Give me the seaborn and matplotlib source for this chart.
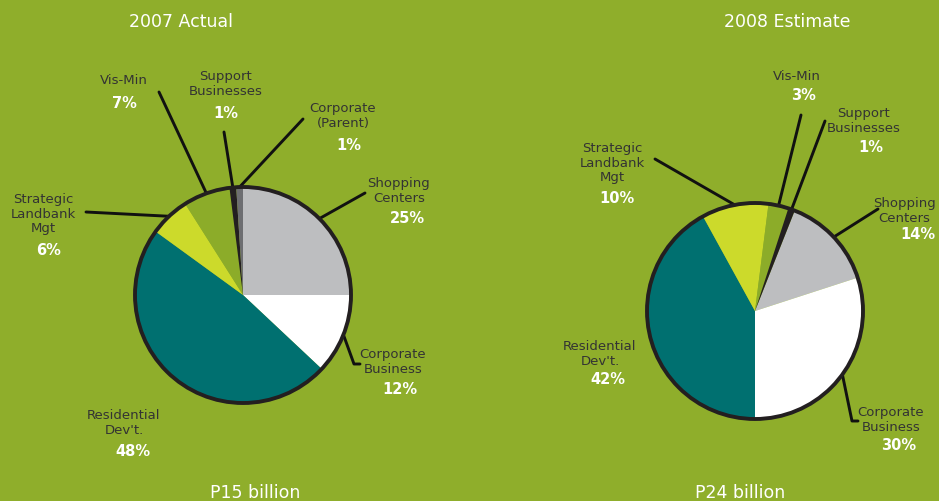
import numpy as np
import matplotlib
matplotlib.use("Agg")
import matplotlib.pyplot as plt
import seaborn as sns

# ---------------- data ----------------
titles = ["2007 Actual", "2008 Estimate"]
totals = ["P15 billion", "P24 billion"]

cats_2007 = ["Shopping\nCenters", "Corporate\nBusiness", "Residential\nDev't.",
             "Strategic\nLandbank\nMgt", "Vis-Min", "Support\nBusinesses",
             "Corporate\n(Parent)"]
vals_2007 = [25, 12, 48, 6, 7, 1, 1]

cats_2008 = ["Shopping\nCenters", "Corporate\nBusiness", "Residential\nDev't.",
             "Strategic\nLandbank\nMgt", "Vis-Min", "Support\nBusinesses"]
vals_2008 = [14, 30, 42, 10, 3, 1]

# ---------------- style ----------------
BG = "#8FAE2B"
sns.set_style("white", {"axes.facecolor": BG, "figure.facecolor": BG})
plt.rcParams["font.family"] = ["DejaVu Sans"]

color_map = {
    "Shopping\nCenters": "#BDBEC0",
    "Corporate\nBusiness": "#FFFFFF",
    "Residential\nDev't.": "#007070",
    "Strategic\nLandbank\nMgt": "#CCDA2B",
    "Vis-Min": "#8CAC29",
    "Support\nBusinesses": "#231F20",
    "Corporate\n(Parent)": "#6D6E71",
}

W, H = 939, 501
fig = plt.figure(figsize=(W / 100, H / 100), dpi=100)
ax = fig.add_axes([0, 0, 1, 1])

def py(y):  # pixel-from-top -> data y
    return H - y

# layout: pie centers / radius in pixel space
pies = [
    dict(cats=cats_2007, vals=vals_2007, center=(243, 295), r=108, start=90,
         title_pos=(181, 22), total_pos=(255, 493),
         labels={  # name: (label center, pct center, leader end, elbow)
             "Vis-Min": ((124, 80), (124, 103), (159, 92), None),
             "Support\nBusinesses": ((226, 84), (226, 113), (224, 132), None),
             "Corporate\n(Parent)": ((343, 116), (349, 145), (303, 119), None),
             "Shopping\nCenters": ((399, 191), (407, 218), (365, 193), None),
             "Strategic\nLandbank\nMgt": ((43, 214), (49, 250), (86, 212), None),
             "Corporate\nBusiness": ((393, 362), (400, 390), (360, 364), (354, 364)),
             "Residential\nDev't.": ((124, 423), (133, 452), None, None),
         }),
    dict(cats=cats_2008, vals=vals_2008, center=(755, 311), r=108, start=68.4,
         title_pos=(787, 22), total_pos=(740, 493),
         labels={
             "Vis-Min": ((797, 76), (803, 95), (801, 115), None),
             "Support\nBusinesses": ((864, 121), (871, 147), (825, 121), None),
             "Strategic\nLandbank\nMgt": ((612, 163), (617, 198), (655, 159), None),
             "Shopping\nCenters": ((904, 211), (918, 234), (878, 209), None),
             "Residential\nDev't.": ((600, 354), (608, 380), None, None),
             "Corporate\nBusiness": ((891, 420), (899, 446), (858, 421), (852, 421)),
         }),
]

for i, p in enumerate(pies):
    cx, cy = p["center"]
    r = p["r"]
    colors = [color_map[c] for c in p["cats"]]
    wedges, _ = ax.pie(p["vals"], colors=colors, startangle=p["start"],
                       counterclock=False, radius=r, center=(cx, py(cy)),
                       frame=True, wedgeprops=dict(linewidth=0))
    # outline
    circ = plt.Circle((cx, py(cy)), r, fill=False, edgecolor="#231F20",
                      linewidth=2.8, zorder=5)
    ax.add_patch(circ)

    ax.text(p["title_pos"][0], py(p["title_pos"][1]), titles[i],
            ha="center", va="center", color="white", fontsize=12.5)
    ax.text(p["total_pos"][0], py(p["total_pos"][1]), totals[i],
            ha="center", va="center", color="white", fontsize=12.5)

    for w, cat, val in zip(wedges, p["cats"], p["vals"]):
        lab_pos, pct_pos, lead_end, elbow = p["labels"][cat]
        ax.text(lab_pos[0], py(lab_pos[1]), cat, ha="center", va="center",
                color="#333333", fontsize=9.5, linespacing=1.12)
        ax.text(pct_pos[0], py(pct_pos[1]), f"{val}%", ha="center", va="center",
                color="white", fontsize=10.5, fontweight="bold")
        if lead_end is not None:
            mid = np.deg2rad((w.theta1 + w.theta2) / 2)
            x0 = cx + r * np.cos(mid)
            y0 = py(cy) + r * np.sin(mid)
            if elbow is not None:
                xs = [x0, elbow[0], lead_end[0]]
                ys = [y0, py(elbow[1]), py(lead_end[1])]
            else:
                xs = [x0, lead_end[0]]
                ys = [y0, py(lead_end[1])]
            ax.plot(xs, ys, color="#111111", linewidth=2.1,
                    solid_capstyle="round", zorder=4)

ax.set_xlim(0, W)
ax.set_ylim(0, H)
ax.set_aspect("equal")
ax.axis("off")
fig.savefig("out.png", dpi=100, facecolor=BG)
